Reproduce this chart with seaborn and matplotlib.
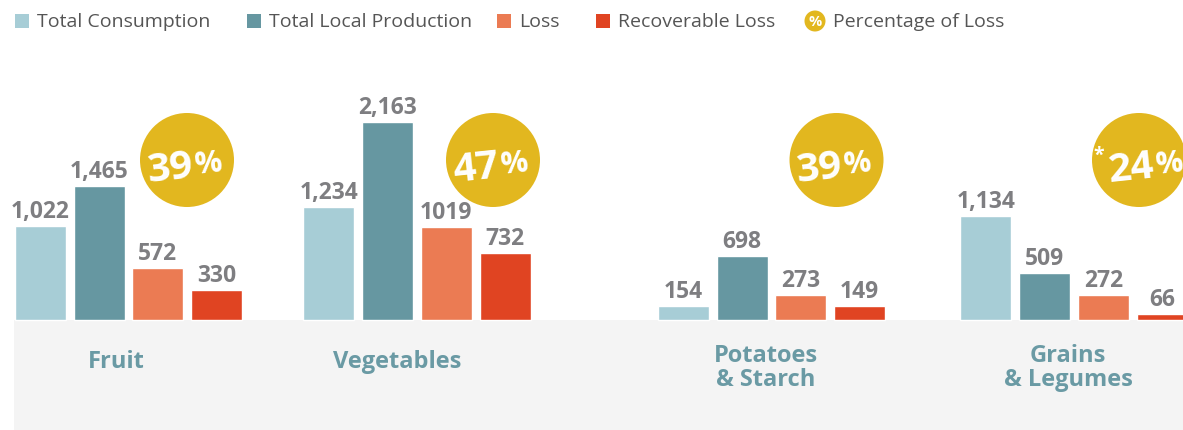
import matplotlib
matplotlib.use("Agg")
import matplotlib.pyplot as plt
from matplotlib.patches import Circle, Rectangle
import numpy as np
import pandas as pd
import seaborn as sns

# ---------------- data ----------------
categories = ["Fruit", "Vegetables", "Potatoes\n& Starch", "Grains\n& Legumes"]
total_consumption = [1022, 1234, 154, 1134]
total_local_production = [1465, 2163, 698, 509]
loss = [572, 1019, 273, 272]
recoverable_loss = [330, 732, 149, 66]
loss_percentage = [39, 47, 39, 24]
percentage_footnote = [False, False, False, True]
series_names = ["Total Consumption", "Total Local Production", "Loss", "Recoverable Loss"]
pct_legend_label = "Percentage of Loss"

# ---------------- layout / style ----------------
W, H = 1183, 430
group_centers_px = [128.5, 417, 771.5, 1074]
label_shift_px = [-12, -20, -6, -6]
circle_shift_px = [58.5, 76, 65, 65]
circle_y_px, circle_r_px = 160, 47
baseline_px = 320
px_per_unit = 0.0915
panel_left_px = 14
colors = ["#A7CDD6", "#6697A1", "#EB7B53", "#E04422"]
yellow = "#E2B71F"
value_color = "#7E7E81"
cat_color = "#6A9AA4"
legend_color = "#555555"
label_fmt = ["{:,}", "{:,}", "{}", "{:,}"]

sns.set_style("white")
plt.rcParams["font.family"] = ["Open Sans", "DejaVu Sans"]

fig = plt.figure(figsize=(W / 100, H / 100), dpi=100)
ax = fig.add_axes([0, 0, 1, 1])

df = pd.DataFrame({
    "pos": np.tile(group_centers_px, 4),
    "value": np.concatenate([total_consumption, total_local_production, loss, recoverable_loss]),
    "series": np.repeat(series_names, len(categories)),
})

sns.barplot(data=df, x="pos", y="value", hue="series", hue_order=series_names,
            palette=colors, native_scale=True, width=0.814, gap=0.13,
            saturation=1, errorbar=None, legend=False, ax=ax, zorder=2)

ax.set_xlim(0, W)
ax.set_ylim(-(H - baseline_px) / px_per_unit, baseline_px / px_per_unit)
ax.axis("off")

# grey panel under the bars
ybot = ax.get_ylim()[0]
ax.add_patch(Rectangle((panel_left_px, ybot), W - panel_left_px, -ybot,
                       facecolor="#F4F4F4", edgecolor="none", zorder=0))

for cont, fmt in zip(ax.containers, label_fmt):
    vals = [b.get_height() for b in cont]
    ax.bar_label(cont, labels=[fmt.format(int(round(v))) for v in vals], padding=1.5,
                 color=value_color, fontsize=16.5, fontweight="bold")

# overlay in pixel coordinates
ov = fig.add_axes([0, 0, 1, 1], facecolor="none")
ov.set_xlim(0, W)
ov.set_ylim(H, 0)
ov.axis("off")

for gx, sh, name in zip(group_centers_px, label_shift_px, categories):
    nlines = name.count("\n") + 1
    ov.text(gx + sh, 362 + 6 * (nlines - 1), name, ha="center", va="center",
            color=cat_color, fontsize=17, fontweight="bold", linespacing=1.0)

rot = 6
for gx, cs, pct, fn in zip(group_centers_px, circle_shift_px, loss_percentage, percentage_footnote):
    cx = gx + cs
    ov.add_patch(Circle((cx, circle_y_px), circle_r_px, facecolor=yellow, edgecolor="none", zorder=3))
    axp = cx + 7 + (9 if fn else 0)
    ayp = circle_y_px + 17
    ov.text(axp, ayp, f"{pct}", ha="right", va="baseline", rotation=rot, rotation_mode="anchor",
            color="white", fontsize=29, fontweight="bold", zorder=4)
    ov.text(axp + 1, ayp - 3, "%", ha="left", va="baseline", rotation=rot, rotation_mode="anchor",
            color="white", fontsize=22, fontweight="bold", zorder=4)
    if fn:
        ov.text(cx - 40, circle_y_px - 4, "*", ha="center", va="center",
                color="white", fontsize=14, fontweight="bold", zorder=4)

# legend
legend_x = [15, 247, 497, 596]
for x0, c, name in zip(legend_x, colors, series_names):
    ov.add_patch(Rectangle((x0, 14), 14, 14, facecolor=c, edgecolor="none"))
    ov.text(x0 + 22, 22, name, ha="left", va="center", color=legend_color, fontsize=14)
ov.add_patch(Circle((815, 21), 10.5, facecolor=yellow, edgecolor="none"))
ov.text(815, 21.5, "%", ha="center", va="center", color="white", fontsize=10.5, fontweight="bold")
ov.text(833, 22, pct_legend_label, ha="left", va="center", color=legend_color, fontsize=14)

fig.savefig("out.png", dpi=100)
